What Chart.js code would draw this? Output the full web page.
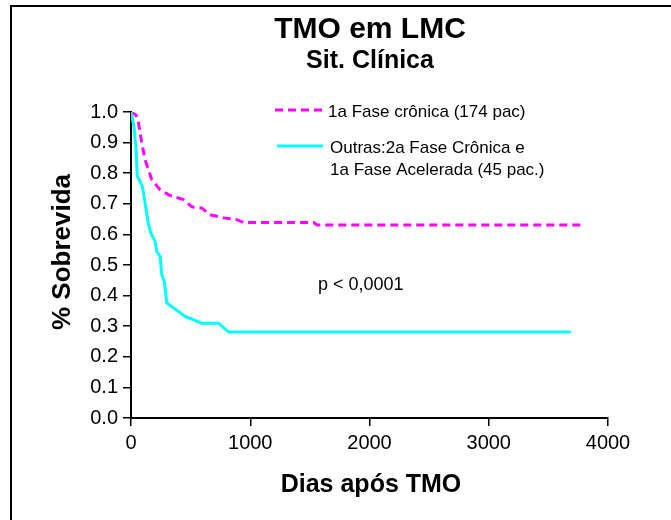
<!DOCTYPE html>
<html>
<head>
<meta charset="utf-8">
<script src="https://cdn.jsdelivr.net/npm/chart.js@4.4.1/dist/chart.umd.min.js"></script>
<style>
  html, body { margin: 0; padding: 0; background: #fff; }
  #wrap { width: 671px; height: 520px; position: relative; }
</style>
</head>
<body>
<div id="wrap"><canvas id="km"></canvas></div>
<script>
// ── DATA ──
const cronicaDays = [0, 42, 61, 90, 118, 174, 244, 328, 440, 510, 594, 664, 776, 888, 944, 1532, 1560, 3787];
const cronicaSurv = [1.0, 0.99, 0.969, 0.899, 0.844, 0.779, 0.746, 0.727, 0.714, 0.69, 0.686, 0.664, 0.654, 0.648, 0.639, 0.639, 0.631, 0.631];

const outrasDays = [0, 25, 42, 53, 76, 95, 118, 145, 166, 202, 216, 244, 258, 280, 300, 454, 594, 734, 818, 3689];
const outrasSurv = [1.0, 0.953, 0.877, 0.79, 0.773, 0.757, 0.703, 0.635, 0.605, 0.577, 0.544, 0.528, 0.468, 0.446, 0.376, 0.332, 0.31, 0.31, 0.281, 0.281];

const xTicks = [0, 1000, 2000, 3000, 4000];
const yTicks = [0, 0.1, 0.2, 0.3, 0.4, 0.5, 0.6, 0.7, 0.8, 0.9, 1.0];

const titleText    = 'TMO em LMC';
const subtitleText = 'Sit. Clínica';
const legendCronica = ['1a Fase crônica (174 pac)'];
const legendOutras  = ['Outras:2a Fase Crônica e', '1a Fase Acelerada (45 pac.)'];
const pText   = 'p < 0,0001';
const xTitle  = 'Dias após TMO';
const yTitle  = '% Sobrevida';

const COLORS = {
  magenta: '#ff00ff',
  cyan:    '#00ffff',
  ink:     '#000000',
};
const FONT = "'Liberation Sans', Arial, sans-serif";

const toPoints = (xs, ys) => xs.map((x, i) => ({ x, y: ys[i] }));

// ── TEXT / FRAME OVERLAY ──
const overlay = {
  id: 'overlay',
  afterDraw(chart) {
    const ctx = chart.ctx;
    ctx.save();

    // frame (top + left only)
    ctx.strokeStyle = COLORS.ink;
    ctx.lineWidth = 2;
    ctx.beginPath();
    ctx.moveTo(11, 520);
    ctx.lineTo(11, 6);
    ctx.lineTo(671, 6);
    ctx.stroke();

    ctx.fillStyle = COLORS.ink;
    ctx.textBaseline = 'alphabetic';
    ctx.textAlign = 'center';
    ctx.font = `bold 30px ${FONT}`;
    ctx.fillText(titleText, 370, 38);
    ctx.font = `bold 25px ${FONT}`;
    ctx.fillText(subtitleText, 370, 68);

    // axis titles
    ctx.font = `bold 25px ${FONT}`;
    ctx.fillText(xTitle, 371, 492);
    ctx.save();
    ctx.translate(70, 252);
    ctx.rotate(-Math.PI / 2);
    ctx.font = `bold 26px ${FONT}`;
    ctx.fillText(yTitle, 0, 0);
    ctx.restore();

    // legend
    ctx.lineWidth = 3;
    ctx.strokeStyle = COLORS.magenta;
    ctx.setLineDash([8, 5]);
    ctx.beginPath();
    ctx.moveTo(275, 110);
    ctx.lineTo(323, 110);
    ctx.stroke();
    ctx.setLineDash([]);
    ctx.strokeStyle = COLORS.cyan;
    ctx.beginPath();
    ctx.moveTo(277, 146);
    ctx.lineTo(323, 146);
    ctx.stroke();

    ctx.textAlign = 'left';
    ctx.font = `17px ${FONT}`;
    ctx.fillText(legendCronica[0], 328, 117);
    legendOutras.forEach((line, i) => ctx.fillText(line, 330, 153 + i * 22));

    ctx.font = `18px ${FONT}`;
    ctx.fillText(pText, 318, 290);

    ctx.restore();
  },
};

const axisCommon = {
  border: { color: COLORS.ink, width: 2 },
  grid: { drawOnChartArea: false, drawTicks: true, tickLength: 8, color: COLORS.ink, lineWidth: 1.5 },
};

new Chart(document.getElementById('km'), {
  type: 'line',
  data: {
    datasets: [
      {
        label: legendOutras.join(' '),
        data: toPoints(outrasDays, outrasSurv),
        borderColor: COLORS.cyan,
        borderWidth: 3,
        pointRadius: 0,
        tension: 0,
        fill: false,
      },
      {
        label: legendCronica[0],
        data: toPoints(cronicaDays, cronicaSurv),
        borderColor: COLORS.magenta,
        borderWidth: 3,
        borderDash: [8, 5],
        pointRadius: 0,
        tension: 0,
        fill: false,
      },
    ],
  },
  options: {
    responsive: true,
    maintainAspectRatio: false,
    animation: false,
    layout: { padding: { top: 112, right: 63, left: 0, bottom: 0 } },
    plugins: {
      legend: { display: false },
      tooltip: { enabled: false },
    },
    scales: {
      x: {
        type: 'linear',
        min: 0,
        max: 4000,
        ...axisCommon,
        afterBuildTicks: s => { s.ticks = xTicks.map(v => ({ value: v })); },
        afterFit: s => { s.height = 102; },
        ticks: { color: COLORS.ink, font: { family: FONT, size: 20 }, padding: 5, maxRotation: 0, callback: v => String(v) },
      },
      y: {
        min: 0,
        max: 1,
        ...axisCommon,
        afterBuildTicks: s => { s.ticks = yTicks.map(v => ({ value: v })); },
        afterFit: s => { s.width = 131; },
        ticks: { color: COLORS.ink, font: { family: FONT, size: 20 }, padding: 5, callback: v => v.toFixed(1) },
      },
    },
  },
  plugins: [overlay],
});
</script>
</body>
</html>
